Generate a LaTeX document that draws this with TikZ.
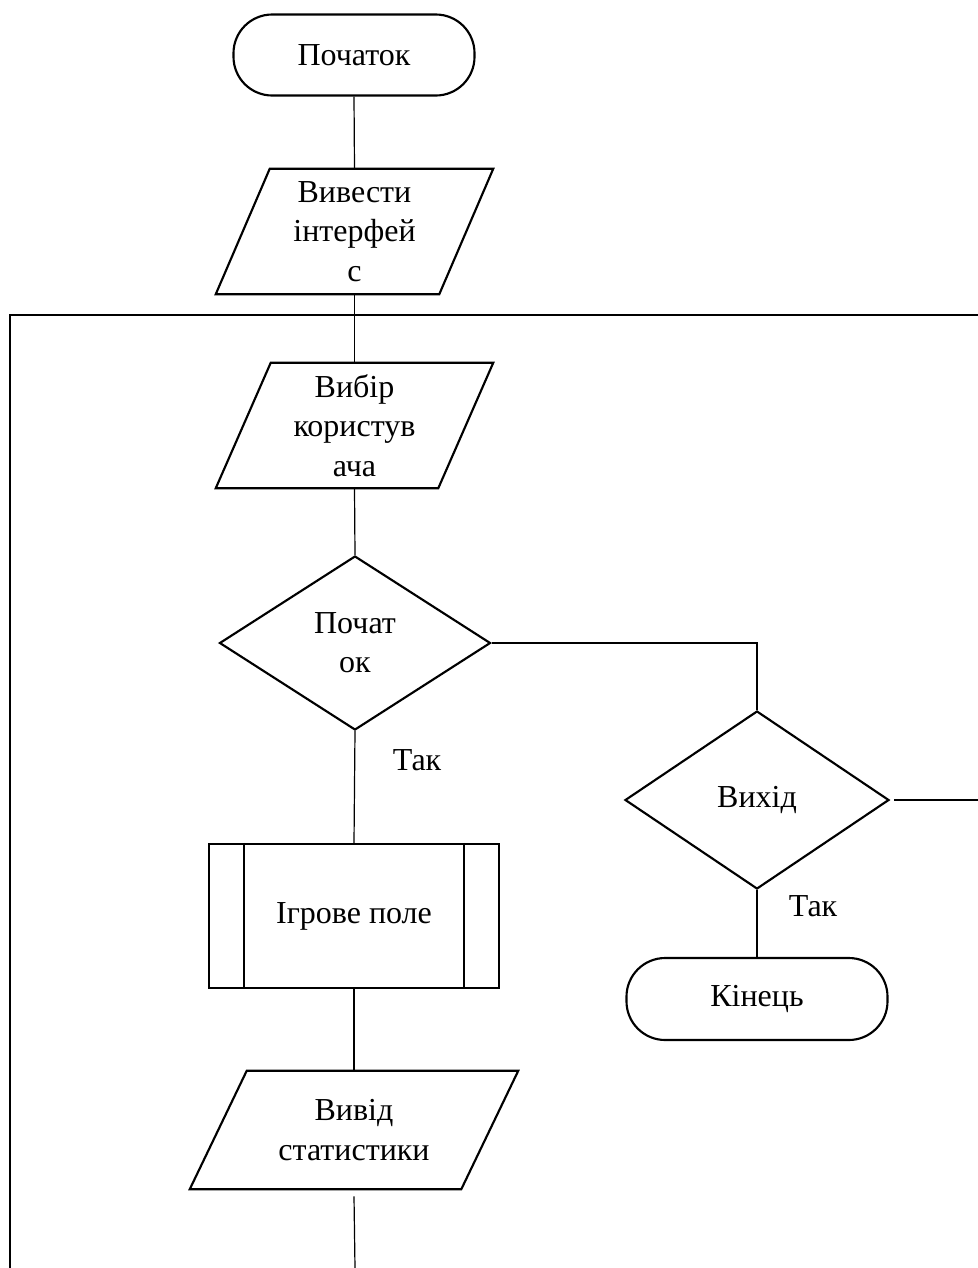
\documentclass[tikz,border=0pt]{standalone}
\usepackage{fontspec}
\setmainfont{Liberation Serif}
\newfontfamily\tnr{Liberation Serif}
\usetikzlibrary{shapes.geometric,calc}
\begin{document}
\begin{tikzpicture}[x=0.75pt,y=-0.75pt,
  every node/.style={font=\tnr\fontsize{24}{29.5}\selectfont, inner sep=0pt, align=center},
  shp/.style={line width=1.6pt},
  conn/.style={line width=0.9pt},
  term/.style={shp, draw, rectangle, rounded corners=29pt},
  box/.style={rectangle, draw=none},
  dec/.style={shp, draw, diamond},
  proc/.style={shp, draw, rectangle}
]
\useasboundingbox (0,0) rectangle (978,1268);

% nodes
\node[term, minimum width=241*0.75pt, minimum height=81*0.75pt] (start) at (354,55) {Початок};
\node[box, minimum width=277*0.75pt, minimum height=125*0.75pt, text depth=-6pt] (out1) at (354.5,231.5) {Вивести\\інтерфей\\с};
\node[box, minimum width=277*0.75pt, minimum height=125*0.75pt, text depth=-6pt] (in1) at (354.5,425.5) {Вибір\\користув\\ача};
\node[dec, minimum width=271*0.75pt, minimum height=174*0.75pt] (d1) at (355,643) {Почат\\ок};
\node[dec, minimum width=264*0.75pt, minimum height=178*0.75pt] (d2) at (757,800) {Вихід};
\node[proc, minimum width=290*0.75pt, minimum height=144*0.75pt] (game) at (354,916) {Ігрове поле};
\node[box, minimum width=328*0.75pt, minimum height=118*0.75pt] (out2) at (354,1130) {Вивід\\статистики};
\node[term, minimum width=261*0.75pt, minimum height=82*0.75pt] (end) at (757,999) {Кінець};
\node (yes1) at (417,760) {Так};
\node (yes2) at (813,906) {Так};

% parallelograms
\draw[shp] ($(out1.north west)+(54,0)$) -- (out1.north east) -- ($(out1.south east)-(54,0)$) -- (out1.south west) -- cycle;
\draw[shp] ($(in1.north west)+(55,0)$) -- (in1.north east) -- ($(in1.south east)-(55,0)$) -- (in1.south west) -- cycle;
\draw[shp] ($(out2.north west)+(57,0)$) -- (out2.north east) -- ($(out2.south east)-(57,0)$) -- (out2.south west) -- cycle;
% predefined process inner lines
\draw[shp] ($(game.north west)+(36,0)$) -- ($(game.south west)+(36,0)$);
\draw[shp] ($(game.north east)-(36,0)$) -- ($(game.south east)-(36,0)$);

% loop coordinates
\coordinate (tl) at (10,315);
\coordinate (tr) at (978,315);
\coordinate (bl) at (10,1268);
\coordinate (rr) at (978,800);
\coordinate (bot) at (355,1268);

% connectors
\draw[conn] (start.south) -- (out1.north);
\draw[conn] (out1.south) -- (in1.north);
\draw[conn] (in1.south) -- (d1.north);
\draw[conn] (d1.south) -- (game.north);
\draw[conn] (game.south) -- (out2.north);
\draw[conn] (d1.east) -| (d2.north);
\draw[conn] (d2.south) -- (end.north);
\draw[conn] (bl) -- (tl) -- (tr);
\draw[conn] ($(d2.east)+(4,0)$) -- (rr);
\draw[conn] ($(out2.south)+(0,7)$) -- (bot);
\end{tikzpicture}
\end{document}
